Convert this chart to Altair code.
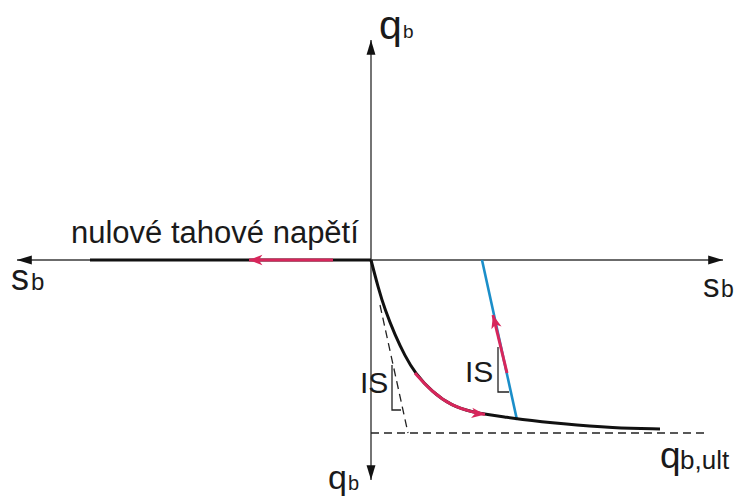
import altair as alt
import pandas as pd

# Diagram units: s to the right, q downward (compression), origin where the axes cross.
S_MIN, S_MAX = -371, 367
Q_MIN, Q_MAX = -260, 240

# Axis extents (arrow tips)
axis_h = {"x": [-354, 352], "y": [0, 0]}
axis_v = {"x": [0, 0], "y": [-220, 220]}

# Load-settlement curve in compression
curve_s = [0, 7, 14, 24, 34, 44, 61, 81, 101, 119, 134, 146, 192, 242, 289]
curve_q = [0, 27, 50, 75, 96, 113, 132, 146, 152, 155, 157, 159, 164, 168, 169]

# Highlighted (loading) part of the curve
red_curve_s = [44, 61, 81, 101, 114]
red_curve_q = [113, 132, 146, 152, 154.5]

# Zero tensile stress branch
tension_s = [-281, 0]
tension_red_s = [-122, -38]

# Unloading / reloading line with initial stiffness
unload_s = [111, 146]
unload_q = [0, 160]
unload_red_s = [136, 122]
unload_red_q = [113, 55]

# Ultimate base resistance and initial tangent
q_ult = 173
qult_end_s = 337
tangent_s = [9, 37]
tangent_q = [45, 173]

# Stiffness (IS) slope markers
is_left_s = [21, 21, 30]
is_left_q = [105, 150, 150]
is_right_s = [127, 127, 138]
is_right_q = [87, 132, 132]

AXIS = "#3a3a3a"
INK = "#111111"
RED = "#d7265b"
BLUE = "#1b8ec9"

xs = alt.Scale(domain=[S_MIN, S_MAX], nice=False, zero=False)
ys = alt.Scale(domain=[Q_MIN, Q_MAX], nice=False, zero=False, reverse=True)


def X(f="x"):
    return alt.X(f"{f}:Q", scale=xs, axis=None)


def Y(f="y"):
    return alt.Y(f"{f}:Q", scale=ys, axis=None)


segments_axis = pd.DataFrame({
    "x": [axis_h["x"][0], axis_v["x"][0]],
    "y": [axis_h["y"][0], axis_v["y"][0]],
    "x2": [axis_h["x"][1], axis_v["x"][1]],
    "y2": [axis_h["y"][1], axis_v["y"][1]],
})
axes = alt.Chart(segments_axis).mark_rule(color=AXIS, strokeWidth=1.4).encode(
    x=X(), y=Y(), x2="x2:Q", y2="y2:Q"
)

dashed_df = pd.DataFrame({
    "x": [0, tangent_s[0]], "y": [q_ult, tangent_q[0]],
    "x2": [qult_end_s, tangent_s[1]], "y2": [q_ult, tangent_q[1]],
})
dashed = alt.Chart(dashed_df).mark_rule(color="#222222", strokeWidth=1.3, strokeDash=[8, 5]).encode(
    x=X(), y=Y(), x2="x2:Q", y2="y2:Q"
)

is_rows = []
for k, (ss, qq) in enumerate([(is_left_s, is_left_q), (is_right_s, is_right_q)]):
    for o, (s, q) in enumerate(zip(ss, qq)):
        is_rows.append({"id": k, "o": o, "x": s, "y": q})
is_marks = alt.Chart(pd.DataFrame(is_rows)).mark_line(color="#222222", strokeWidth=1.3).encode(
    x=X(), y=Y(), detail="id:N", order="o:Q"
)

blue = alt.Chart(pd.DataFrame({"x": [unload_s[0]], "y": [unload_q[0]],
                               "x2": [unload_s[1]], "y2": [unload_q[1]]})).mark_rule(
    color=BLUE, strokeWidth=2.6).encode(x=X(), y=Y(), x2="x2:Q", y2="y2:Q")

tension = alt.Chart(pd.DataFrame({"x": [tension_s[0]], "y": [0],
                                  "x2": [tension_s[1]], "y2": [0]})).mark_rule(
    color=INK, strokeWidth=3).encode(x=X(), y=Y(), x2="x2:Q", y2="y2:Q")

curve = alt.Chart(pd.DataFrame({"x": curve_s, "y": curve_q, "o": range(len(curve_s))})).mark_line(
    color=INK, strokeWidth=3, interpolate="basis").encode(x=X(), y=Y(), order="o:Q")

red_curve = alt.Chart(pd.DataFrame({"x": red_curve_s, "y": red_curve_q,
                                    "o": range(len(red_curve_s))})).mark_line(
    color=RED, strokeWidth=3, interpolate="basis").encode(x=X(), y=Y(), order="o:Q")

red_rules = alt.Chart(pd.DataFrame({
    "x": [tension_red_s[0], unload_red_s[0]], "y": [0, unload_red_q[0]],
    "x2": [tension_red_s[1], unload_red_s[1]], "y2": [0, unload_red_q[1]],
})).mark_rule(color=RED, strokeWidth=3).encode(x=X(), y=Y(), x2="x2:Q", y2="y2:Q")

# Arrowheads: path tip sits at the data point, rotated by angle
axis_tip = "M0,0L-2,-0.6L-2,0.6Z"
red_tip = "M0,0L-2,-0.78L-1.45,0L-2,0.78Z"

axis_heads = pd.DataFrame({
    "x": [axis_h["x"][0], axis_h["x"][1], 0, 0],
    "y": [0, 0, axis_v["y"][0], axis_v["y"][1]],
    "a": [180, 0, 270, 90],
})
heads = alt.Chart(axis_heads).mark_point(shape=axis_tip, filled=True, color=INK, opacity=1,
                                         size=220, strokeWidth=0).encode(
    x=X(), y=Y(), angle=alt.Angle("a:Q", scale=None)
)

red_heads_df = pd.DataFrame({
    "x": [tension_red_s[0], red_curve_s[-1], unload_red_s[1]],
    "y": [0, red_curve_q[-1], unload_red_q[1]],
    "a": [180, 7, 255],
})
red_heads = alt.Chart(red_heads_df).mark_point(shape=red_tip, filled=True, color=RED, opacity=1,
                                               size=180, strokeWidth=0).encode(
    x=X(), y=Y(), angle=alt.Angle("a:Q", scale=None)
)

labels = pd.DataFrame([
    {"x": 8, "y": -221, "t": "q", "fs": 41},
    {"x": 32, "y": -222, "t": "b", "fs": 19},
    {"x": -43, "y": 229, "t": "q", "fs": 34},
    {"x": -23, "y": 230, "t": "b", "fs": 20},
    {"x": -360, "y": 30, "t": "s", "fs": 36},
    {"x": -340, "y": 30, "t": "b", "fs": 24},
    {"x": 332, "y": 37, "t": "s", "fs": 33},
    {"x": 350, "y": 37, "t": "b", "fs": 23},
    {"x": -300, "y": -17, "t": "nulové tahové napětí", "fs": 31},
    {"x": -11, "y": 133, "t": "IS", "fs": 30},
    {"x": 94, "y": 122, "t": "IS", "fs": 30},
    {"x": 289, "y": 208, "t": "q", "fs": 37},
    {"x": 309, "y": 209, "t": "b,ult", "fs": 26},
])
text = alt.Chart(labels).mark_text(align="left", baseline="alphabetic", color="#1a1a1a",
                                   font="Liberation Sans").encode(
    x=X(), y=Y(), text="t:N", size=alt.Size("fs:Q", scale=None)
)

chart = alt.layer(
    axes, dashed, is_marks, blue, tension, curve, red_curve, red_rules, heads, red_heads, text
).properties(
    width=738, height=500, padding=0, autosize=alt.AutoSizeParams(type="none")
).configure_view(stroke=None)

chart.save("out.html", embed_options={"renderer": "svg", "actions": False})
